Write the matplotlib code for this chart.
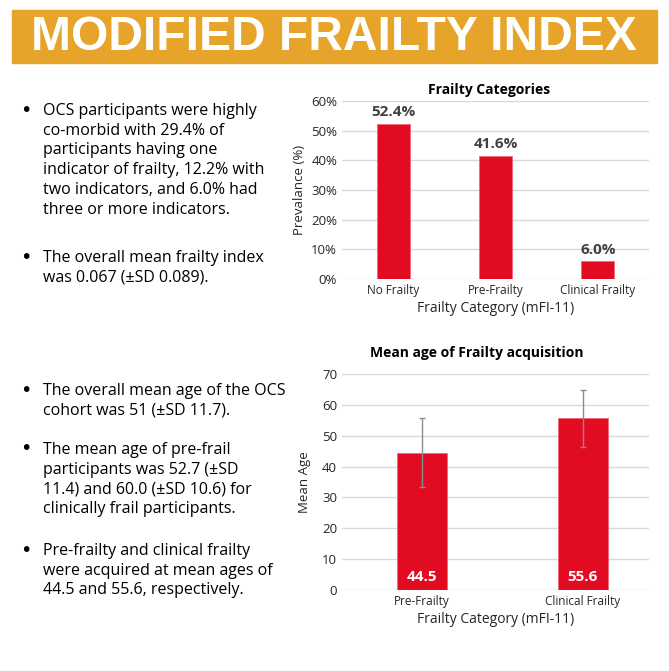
import matplotlib.pyplot as plt
from matplotlib.patches import Rectangle

TITLE = "MODIFIED FRAILTY INDEX"

# top chart: prevalence of each frailty category
cat_names = ["No Frailty", "Pre-Frailty", "Clinical Frailty"]
prevalence = [52.4, 41.6, 6.0]

# bottom chart: mean age at acquisition with SD error bars
age_names = ["Pre-Frailty", "Clinical Frailty"]
mean_age = [44.5, 55.6]
age_err = [11.2, 9.1]

bullets_top = [
    "OCS participants were highly\nco-morbid with 29.4% of\nparticipants having one\n"
    "indicator of frailty, 12.2% with\ntwo indicators, and 6.0% had\nthree or more indicators.",
    "The overall mean frailty index\nwas 0.067 (\u00b1SD 0.089).",
]
bullets_bottom = [
    "The overall mean age of the OCS\ncohort was 51 (\u00b1SD 11.7).",
    "The mean age of pre-frail\nparticipants was 52.7 (\u00b1SD\n11.4) and 60.0 (\u00b1SD 10.6) for\n"
    "clinically frail participants.",
    "Pre-frailty and clinical frailty\nwere acquired at mean ages of\n44.5 and 55.6, respectively.",
]

RED = "#E20C22"
GRID = "#D9D9D9"
TXT = "#262626"
W, H = 669, 671

plt.rcParams["font.family"] = ["Open Sans", "DejaVu Sans"]

fig = plt.figure(figsize=(W / 100, H / 100), dpi=100)


def fx(px):
    return px / W


def fy(py):
    return 1 - py / H


# header band
fig.patches.append(Rectangle((fx(12), fy(63)), fx(645), 53 / H,
                             transform=fig.transFigure, color="#E6A52A", zorder=0))
fig.text(fx(334), fy(37), TITLE, ha="center", va="center", color="white",
         fontsize=34.5, fontweight="bold",
         family=["Liberation Sans", "DejaVu Sans"])


def style_axes(ax):
    for s in ax.spines.values():
        s.set_visible(False)
    ax.tick_params(length=0, colors=TXT, labelsize=8.5)
    ax.tick_params(axis="y", labelsize=9.5)
    ax.yaxis.grid(True, color=GRID, lw=1)
    ax.set_axisbelow(True)


# top chart
ax1 = fig.add_axes([fx(342), fy(279), fx(307), (279 - 101) / H])
x1 = range(len(cat_names))
ax1.bar(x1, prevalence, width=0.32, color=RED, edgecolor="#F2606E", lw=0.5)
ax1.set_xlim(-0.5, 2.5)
ax1.set_ylim(0, 60)
ax1.set_yticks(range(0, 61, 10))
ax1.set_yticklabels([f"{v}%" for v in range(0, 61, 10)])
ax1.set_xticks(list(x1))
ax1.set_xticklabels(cat_names)
style_axes(ax1)
for xi, v in zip(x1, prevalence):
    ax1.text(xi, v + 1.5, f"{v:.1f}%", ha="center", va="bottom",
             fontsize=11, fontweight="bold", color="#404040")
ax1.set_xlabel("Frailty Category (mFI-11)", fontsize=10, color=TXT, labelpad=3)
ax1.set_ylabel("Prevalance (%)", fontsize=9.5, color=TXT, labelpad=4)
fig.text(fx(489), fy(90), "Frailty Categories", ha="center", va="center",
         fontsize=10, fontweight="bold", color="black")

# bottom chart
ax2 = fig.add_axes([fx(342), fy(590), fx(307), (590 - 374) / H])
x2 = range(len(age_names))
ax2.bar(x2, mean_age, width=0.31, color=RED, edgecolor="#F2606E", lw=0.5,
        yerr=age_err, error_kw=dict(ecolor="#8C8C8C", elinewidth=1, capsize=2))
ax2.set_xlim(-0.497, 1.41)
ax2.set_ylim(0, 70)
ax2.set_yticks(range(0, 71, 10))
ax2.set_xticks(list(x2))
ax2.set_xticklabels(age_names)
style_axes(ax2)
for xi, v in zip(x2, mean_age):
    ax2.text(xi, 4.2, f"{v:.1f}", ha="center", va="center",
             fontsize=11, fontweight="bold", color="white")
ax2.set_xlabel("Frailty Category (mFI-11)", fontsize=10, color=TXT, labelpad=3)
ax2.set_ylabel("Mean Age", fontsize=9.5, color=TXT, labelpad=8)
fig.text(fx(477), fy(353), "Mean age of Frailty acquisition", ha="center",
         va="center", fontsize=10, fontweight="bold", color="black")


def bullet_block(items, first_y, gap):
    y = first_y
    for item in items:
        fig.text(fx(20), fy(y), "\u2022", ha="left", va="center", fontsize=14,
                 color="black", family="DejaVu Sans")
        fig.text(fx(43), fy(y) + 0.5 * 14.5 / H, item, ha="left", va="top",
                 fontsize=11.5, color="black", linespacing=1.32)
        y += (item.count("\n") + 1) * 21 + gap


bullet_block(bullets_top, 110, 21)
bullet_block(bullets_bottom, 390, 17)

fig.savefig("out.png", dpi=100)
